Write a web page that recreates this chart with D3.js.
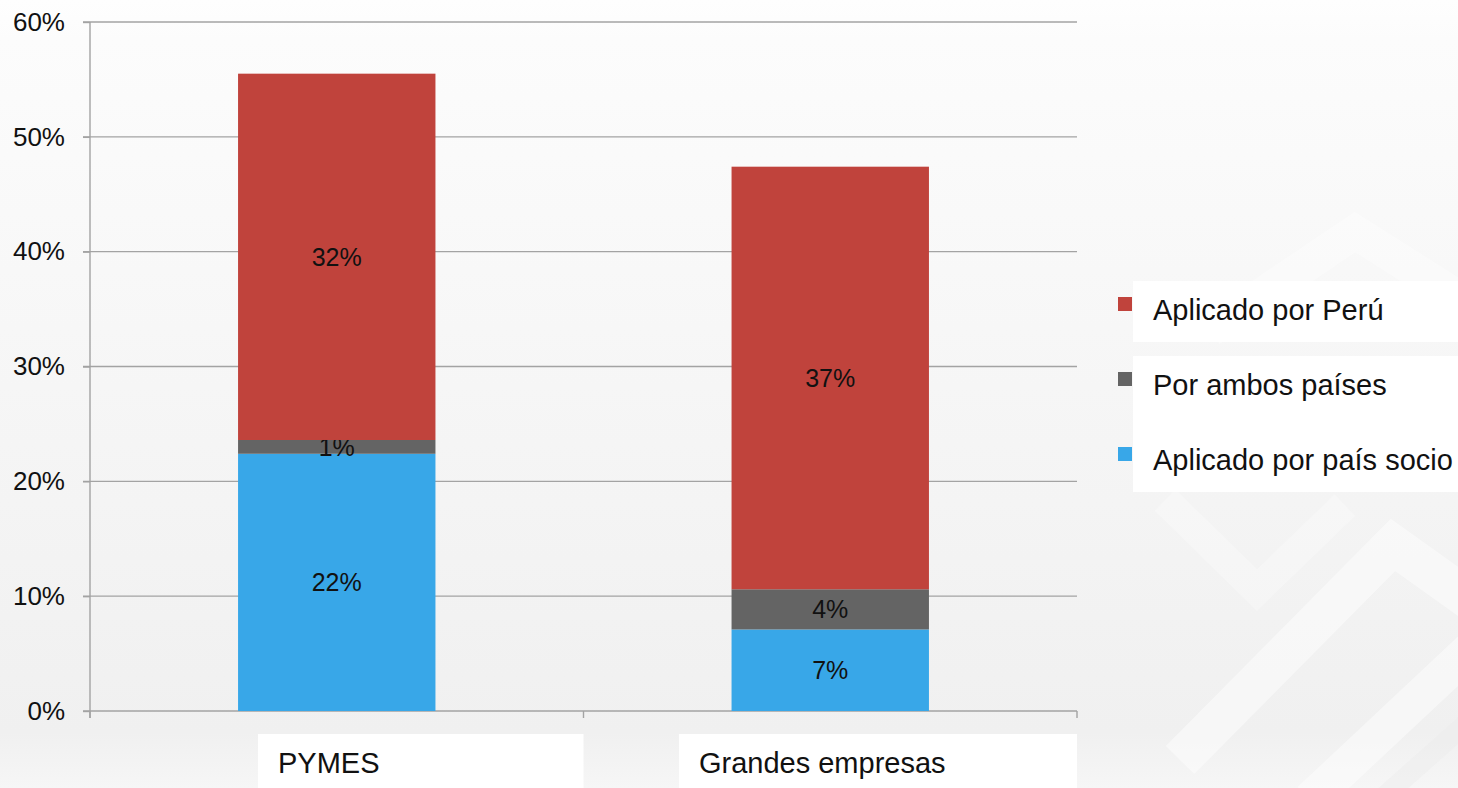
<!DOCTYPE html>
<html>
<head>
<meta charset="utf-8">
<script src="https://cdn.jsdelivr.net/npm/d3@7"></script>
<style>
	html, body { margin: 0; padding: 0; background: #fff; }
	svg { display: block; font-family: "Liberation Sans", Arial, sans-serif; }
</style>
</head>
<body>
<svg id="chart" width="1458" height="788"></svg>
<script>
// values (percent)
const categories = ["PYMES", "Grandes empresas"];
const seriesNames = ["Aplicado por país socio", "Por ambos países", "Aplicado por Perú"];
const socioValues = [22.4, 7.1];
const ambosValues = [1.2, 3.5];
const peruValues = [31.9, 36.8];
const yTicks = [0, 10, 20, 30, 40, 50, 60];
const colors = ["#38a7e8", "#646464", "#c0433c"];

const svg = d3.select("#chart");
const W = 1458, H = 788;

// background
const defs = svg.append("defs");
const grad = defs.append("linearGradient").attr("id", "bg").attr("x1", 0).attr("y1", 0).attr("x2", 0).attr("y2", 1);
grad.append("stop").attr("offset", "0%").attr("stop-color", "#fefefe");
grad.append("stop").attr("offset", "5%").attr("stop-color", "#fcfcfc");
grad.append("stop").attr("offset", "93%").attr("stop-color", "#f0f0f0");
grad.append("stop").attr("offset", "100%").attr("stop-color", "#f6f6f6");
svg.append("rect").attr("width", W).attr("height", H).attr("fill", "url(#bg)");

// faint chevrons on the right
const deco = svg.append("g").attr("fill", "none").attr("stroke-linejoin", "miter");
const chevrons = [
	{ pts: [[1210, 330], [1355, 232], [1470, 305]], w: 34, c: "#ffffff", o: 0.35 },
	{ pts: [[1180, 760], [1393, 545], [1470, 600]], w: 40, c: "#ffffff", o: 0.45 },
	{ pts: [[1165, 500], [1257, 590], [1345, 505]], w: 30, c: "#ffffff", o: 0.25 },
	{ pts: [[1310, 800], [1470, 650]], w: 36, c: "#ffffff", o: 0.45 },
	{ pts: [[1380, 800], [1470, 720]], w: 20, c: "#ebebeb", o: 0.4 }
];
chevrons.forEach(ch => {
	deco.append("path")
		.attr("d", d3.line()(ch.pts))
		.attr("stroke", ch.c)
		.attr("stroke-width", ch.w)
		.attr("opacity", ch.o);
});

const x = d3.scaleBand().domain(categories).range([90, 1077]).padding(0);
const y = d3.scaleLinear().domain([0, 60]).range([711, 22]);
const barW = x.bandwidth() * 0.4;

// gridlines
svg.append("g")
	.selectAll("line")
	.data(yTicks)
	.join("line")
	.attr("x1", 83).attr("x2", 1077)
	.attr("y1", d => y(d)).attr("y2", d => y(d))
	.attr("stroke", "#a3a3a3").attr("stroke-width", 1.4);

// y axis
const yAxis = svg.append("g")
	.attr("transform", "translate(90,0)")
	.call(d3.axisLeft(y).tickValues(yTicks).tickFormat(d => d + "%").tickSize(7).tickPadding(18));
yAxis.select(".domain").remove();
yAxis.selectAll(".tick line").attr("stroke", "#a3a3a3").attr("stroke-width", 1.4);
yAxis.selectAll(".tick text").attr("font-size", 26).attr("fill", "#111").attr("font-family", "'Liberation Sans', Arial, sans-serif");
svg.append("line").attr("x1", 90).attr("x2", 90).attr("y1", y(60)).attr("y2", 718)
	.attr("stroke", "#a3a3a3").attr("stroke-width", 1.4);

// x axis tick marks
const xEdges = categories.map(c => x(c)).concat([x(categories[categories.length - 1]) + x.bandwidth()]);
svg.append("g").selectAll("line").data(xEdges).join("line")
	.attr("x1", d => d).attr("x2", d => d)
	.attr("y1", y(0)).attr("y2", 718)
	.attr("stroke", "#a3a3a3").attr("stroke-width", 1.4);

// stacked bars
const rows = categories.map((c, i) => ({
	cat: c,
	[seriesNames[0]]: socioValues[i],
	[seriesNames[1]]: ambosValues[i],
	[seriesNames[2]]: peruValues[i]
}));
const stacked = d3.stack().keys(seriesNames)(rows);

const layers = svg.append("g").selectAll("g")
	.data(stacked)
	.join("g")
	.attr("fill", (d, i) => colors[i]);

layers.selectAll("rect")
	.data(d => d)
	.join("rect")
	.attr("x", d => x(d.data.cat) + (x.bandwidth() - barW) / 2)
	.attr("width", barW)
	.attr("y", d => y(d[1]))
	.attr("height", d => y(d[0]) - y(d[1]));

const fmt = d3.format(".0f");
layers.selectAll("text")
	.data(d => d.map(p => ({ p, key: d.key })))
	.join("text")
	.attr("x", d => x(d.p.data.cat) + x.bandwidth() / 2)
	.attr("y", d => (y(d.p[0]) + y(d.p[1])) / 2)
	.attr("dy", "0.36em")
	.attr("text-anchor", "middle")
	.attr("font-size", 25)
	.attr("fill", "#111")
	.text(d => fmt(d.p[1] - d.p[0]) + "%");

// category labels in white boxes
const catG = svg.append("g").selectAll("g").data(categories).join("g");
catG.each(function (c) {
	const g = d3.select(this);
	const cx = x(c) + x.bandwidth() / 2 - 8;
	const t = g.append("text")
		.attr("x", cx).attr("y", 773)
		.attr("text-anchor", "middle")
		.attr("font-size", 29)
		.attr("fill", "#111")
		.text(c);
	const bb = t.node().getBBox();
	g.insert("rect", "text")
		.attr("x", bb.x - 20)
		.attr("y", 734)
		.attr("width", x(c) + x.bandwidth() - (bb.x - 20))
		.attr("height", H - 734)
		.attr("fill", "#fff");
});

// legend (top to bottom: Perú, ambos, socio)
const legendOrder = seriesNames.slice().reverse();
const ly = d3.scalePoint().domain(legendOrder).range([320, 470]);
const legend = svg.append("g");
legend.append("rect").attr("x", 1133).attr("y", ly(legendOrder[0]) - 39).attr("width", W - 1133).attr("height", 61).attr("fill", "#fff");
legend.append("rect").attr("x", 1133).attr("y", ly(legendOrder[1]) - 39).attr("width", W - 1133)
	.attr("height", ly(legendOrder[2]) - ly(legendOrder[1]) + 61).attr("fill", "#fff");
legendOrder.forEach(name => {
	const i = seriesNames.indexOf(name);
	legend.append("rect")
		.attr("x", 1118).attr("y", ly(name) - 23)
		.attr("width", 14).attr("height", 14)
		.attr("fill", colors[i]);
	legend.append("text")
		.attr("x", 1153).attr("y", ly(name))
		.attr("font-size", 29)
		.attr("fill", "#111")
		.text(name);
});
</script>
</body>
</html>
